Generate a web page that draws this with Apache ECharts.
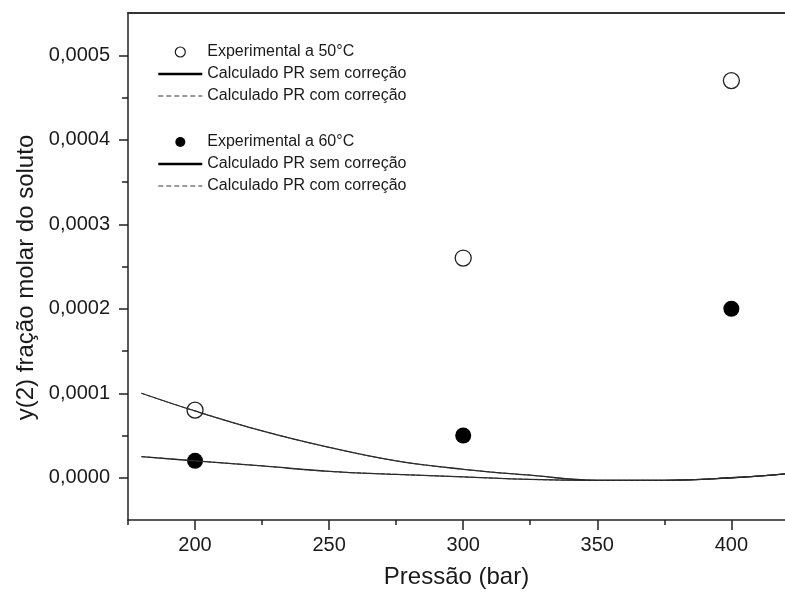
<!DOCTYPE html>
<html>
<head>
<meta charset="utf-8">
<script src="https://cdn.jsdelivr.net/npm/echarts@6/dist/echarts.min.js"></script>
<style>
  html, body { margin: 0; padding: 0; background: #fff; }
  #main { width: 785px; height: 595px; }
</style>
</head>
<body>
<div id="main"></div>
<script>
// dados
const expPressure = [200, 300, 400]
const exp50 = [0.00008, 0.00026, 0.00047]
const exp60 = [0.00002, 0.00005, 0.0002]

const calcPressure = [180, 200, 225, 250, 275, 300, 325, 350, 375, 400, 420]
const calc50 = [0.000100, 0.000079, 0.0000555, 0.000036, 0.000020, 0.000010, 0.000003, -0.000003, -0.000003, 0.000000, 0.0000045]
const calc60 = [0.000025, 0.000020, 0.000014, 0.0000075, 0.000004, 0.000001, -0.000002, -0.000003, -0.000003, 0.000000, 0.0000045]

// marcas dos eixos
const xMajorTicks = [200, 250, 300, 350, 400]
const xMinorTicks = [175, 225, 275, 325, 375]
const yMajorTicks = [0, 0.0001, 0.0002, 0.0003, 0.0004, 0.0005]
const yMinorTicks = [0.00005, 0.00015, 0.00025, 0.00035, 0.00045]

const nameExp50 = 'Experimental a 50°C'
const nameExp60 = 'Experimental a 60°C'
const nameSem = 'Calculado PR sem correção'
const nameCom = 'Calculado PR com correção'

const font = 'Arial, "Liberation Sans", sans-serif'
const ink = '#1a1a1a'
const xRange = { min: 175, max: 420 }
const yRange = { min: -0.00005, max: 0.00055 }

const pairs = (xs, ys) => xs.map((x, i) => [x, ys[i]])

const myChart = echarts.init(document.getElementById('main'))

const legendBase = {
  orient: 'vertical',
  left: 157,
  padding: 0,
  itemWidth: 44,
  itemHeight: 10,
  itemGap: 6,
  selectedMode: false,
  textStyle: { fontFamily: font, fontSize: 16, color: ink, lineHeight: 16 }
}

const noDot = { color: 'transparent', borderWidth: 0, opacity: 0 }

const legendData = (expName, filled) => [
  {
    name: expName,
    icon: 'circle',
    itemStyle: filled
      ? { color: '#000', borderWidth: 0, opacity: 1 }
      : { color: '#fff', borderColor: ink, borderWidth: 1.2, opacity: 1 }
  },
  { name: nameSem, itemStyle: noDot, lineStyle: { width: 2.6, color: '#000' } },
  { name: nameCom, itemStyle: noDot, lineStyle: { width: 1, type: [5, 3], color: '#333' } }
]

const tickLine = { color: '#222', width: 1.5 }

const option = {
  backgroundColor: '#fff',
  animation: false,
  textStyle: { fontFamily: font },
  grid: { left: 128, right: 0, top: 13, bottom: 75, containLabel: false },
  legend: [
    Object.assign({}, legendBase, { top: 44, data: legendData(nameExp50, false) }),
    Object.assign({}, legendBase, { top: 134, data: legendData(nameExp60, true) })
  ],
  xAxis: [
    Object.assign({
      type: 'value',
      position: 'bottom',
      name: 'Pressão (bar)',
      nameLocation: 'middle',
      nameGap: 45,
      nameTextStyle: { fontSize: 24, color: ink, fontFamily: font },
      splitLine: { show: false },
      axisLine: { onZero: false, lineStyle: { color: '#222', width: 1.5 } },
      axisTick: { length: 10, customValues: xMajorTicks, lineStyle: tickLine },
      axisLabel: { fontSize: 20, color: ink, margin: 15, customValues: xMajorTicks }
    }, xRange),
    Object.assign({
      type: 'value',
      position: 'bottom',
      splitLine: { show: false },
      axisLine: { show: false, onZero: false },
      axisTick: { length: 5, customValues: xMinorTicks, lineStyle: tickLine },
      axisLabel: { show: false }
    }, xRange),
    Object.assign({
      type: 'value',
      position: 'top',
      splitLine: { show: false },
      axisLine: { show: true, onZero: false, lineStyle: { color: '#333', width: 2 } },
      axisTick: { show: false },
      axisLabel: { show: false }
    }, xRange)
  ],
  yAxis: [
    Object.assign({
      type: 'value',
      position: 'left',
      name: 'y(2) fração molar do soluto',
      nameLocation: 'middle',
      nameGap: 88,
      nameTextStyle: { fontSize: 24, color: ink, fontFamily: font, padding: [0, 22, 0, 0] },
      splitLine: { show: false },
      axisLine: { show: true, onZero: false, lineStyle: { color: '#222', width: 1.5 } },
      axisTick: { length: 9, customValues: yMajorTicks, lineStyle: tickLine },
      axisLabel: {
        fontSize: 20,
        color: ink,
        margin: 18,
        customValues: yMajorTicks,
        formatter: v => v.toFixed(4).replace('.', ',')
      }
    }, yRange),
    Object.assign({
      type: 'value',
      position: 'left',
      splitLine: { show: false },
      axisLine: { show: false, onZero: false },
      axisTick: { length: 6, customValues: yMinorTicks, lineStyle: tickLine },
      axisLabel: { show: false }
    }, yRange)
  ],
  series: [
    {
      name: nameSem,
      type: 'line',
      data: pairs(calcPressure, calc50),
      smooth: 0.4,
      showSymbol: false,
      symbol: 'none',
      lineStyle: { color: '#222', width: 1.3 }
    },
    {
      name: nameCom,
      type: 'line',
      data: pairs(calcPressure, calc50),
      smooth: 0.4,
      showSymbol: false,
      symbol: 'none',
      lineStyle: { color: '#333', width: 1, type: 'dashed' }
    },
    {
      name: nameSem,
      type: 'line',
      data: pairs(calcPressure, calc60),
      smooth: 0.4,
      showSymbol: false,
      symbol: 'none',
      lineStyle: { color: '#222', width: 1.3 }
    },
    {
      name: nameCom,
      type: 'line',
      data: pairs(calcPressure, calc60),
      smooth: 0.4,
      showSymbol: false,
      symbol: 'none',
      lineStyle: { color: '#333', width: 1, type: 'dashed' }
    },
    {
      name: nameExp50,
      type: 'scatter',
      data: pairs(expPressure, exp50),
      symbol: 'circle',
      symbolSize: 16,
      itemStyle: { color: 'transparent', borderColor: '#222', borderWidth: 1.3, opacity: 1 }
    },
    {
      name: nameExp60,
      type: 'scatter',
      data: pairs(expPressure, exp60),
      symbol: 'circle',
      symbolSize: 16,
      itemStyle: { color: '#000', opacity: 1 }
    }
  ]
}

myChart.setOption(option)
</script>
</body>
</html>
